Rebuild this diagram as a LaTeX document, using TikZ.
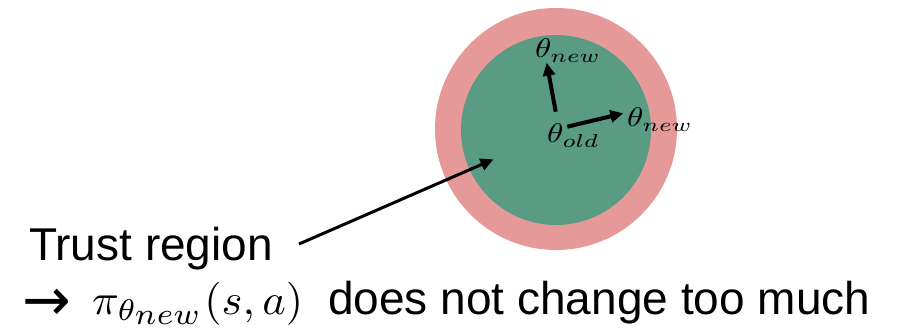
\documentclass[tikz,border=0pt]{standalone}
\usepackage[no-math]{fontspec}
\setmainfont{Liberation Sans}
\newfontfamily\arrowfont{DejaVu Sans}
\usepackage{graphicx}
\usetikzlibrary{arrows.meta}
\definecolor{outerpink}{RGB}{229,154,153}
\definecolor{innergreen}{RGB}{90,155,132}
\tikzset{
  thetalbl/.style={inner sep=0pt, anchor=base west, font=\normalsize},
  bigtext/.style={inner sep=0pt, anchor=base west, font=\fontsize{46}{54}\selectfont},
  paramarrow/.style={line width=4pt, -{Triangle[length=13pt,width=12pt]}},
  trustarrow/.style={line width=3pt, -{Triangle[length=13pt,width=12pt]}}
}
\newcommand{\thetabox}[1]{\scalebox{3.3}[2.7]{$#1$}}
\begin{document}
\begin{tikzpicture}[x=1pt,y=-1pt]
\useasboundingbox (0,0) rectangle (902,331);
% circles
\fill[outerpink] (556,129) circle (121);
\fill[innergreen] (556,130) circle (95);
% theta labels
\node[thetalbl] (old) at (547,143) {\thetabox{\theta_{old}}};
\node[thetalbl] (newtop) at (535,58) {\thetabox{\theta_{new}}};
\node[thetalbl] (newright) at (627,127) {\thetabox{\theta_{new}}};
% arrow endpoints
\coordinate (upstart) at (555.7,111.7);
\coordinate (uptip) at (546.7,62.7);
\coordinate (rstart) at (567.3,126.7);
\coordinate (rtip) at (623.3,113.3);
\draw[paramarrow] (upstart) -- (uptip);
\draw[paramarrow] (rstart) -- (rtip);
% text
\node[bigtext] (trust) at (29,260) {Trust region};
\coordinate (tstart) at (299,244);
\coordinate (ttip) at (493.5,159.3);
\draw[trustarrow] (tstart) -- (ttip);
\node[bigtext, font=\fontsize{44}{54}\arrowfont] (arrowsym) at (22,320) {\raisebox{0pt}[\height][0pt]{\scalebox{1.32}[1.35]{→}}};
\node[thetalbl] (policy) at (92,314) {\scalebox{4.45}[4.3]{$\pi_{\theta_{\scriptstyle new}}(s,a)$}};
\node[bigtext] (rest) at (328,314) {does not change too much};
\end{tikzpicture}
\end{document}
